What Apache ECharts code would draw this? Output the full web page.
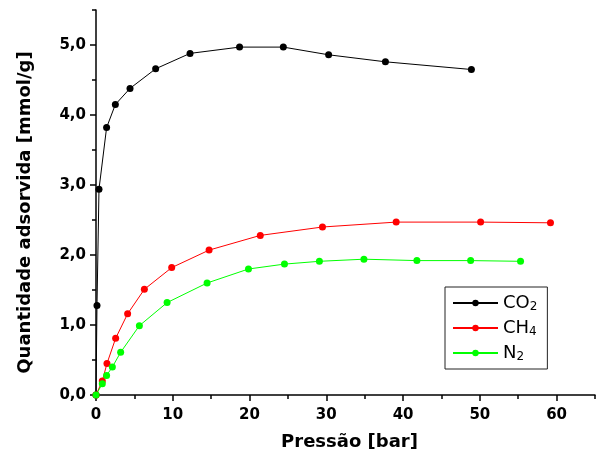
<!DOCTYPE html>
<html>
<head>
<meta charset="utf-8">
<script src="https://cdn.jsdelivr.net/npm/echarts@6/dist/echarts.min.js"></script>
<style>html,body{margin:0;padding:0;background:#fff}#c{width:600px;height:462px}</style>
</head>
<body>
<div id="c"></div>
<script>
// Data
var co2P = [0, 0.13, 0.39, 1.38, 2.52, 4.43, 7.77, 12.25, 18.7, 24.4, 30.3, 37.7, 48.9];
var co2Q = [0, 1.28, 2.94, 3.82, 4.15, 4.38, 4.66, 4.88, 4.97, 4.97, 4.86, 4.76, 4.65];
var ch4P = [0, 0.82, 1.43, 2.56, 4.12, 6.3, 9.86, 14.73, 21.4, 29.5, 39.1, 50.1, 59.2];
var ch4Q = [0, 0.20, 0.45, 0.81, 1.16, 1.51, 1.82, 2.07, 2.28, 2.40, 2.47, 2.47, 2.46];
var n2P = [0, 0.82, 1.38, 2.13, 3.21, 5.65, 9.26, 14.47, 19.86, 24.55, 29.1, 34.9, 41.8, 48.8, 55.3];
var n2Q = [0, 0.16, 0.28, 0.40, 0.61, 0.99, 1.32, 1.60, 1.80, 1.87, 1.91, 1.94, 1.92, 1.92, 1.91];
var seriesNames = ['CO2', 'CH4', 'N2'];
var legendParts = { 'CO2': ['CO', '2'], 'CH4': ['CH', '4'], 'N2': ['N', '2'] };
var xTickLabels = [0, 10, 20, 30, 40, 50, 60];
var xMinorTicks = [5, 15, 25, 35, 45, 55, 65];
var yTickLabels = [0, 1, 2, 3, 4, 5];
var yMinorTicks = [0.5, 1.5, 2.5, 3.5, 4.5, 5.5];
var xMax = 65;
var yMax = 5.5;
var xTitle = 'Pressão [bar]';
var yTitle = 'Quantidade adsorvida [mmol/g]';

function zip(a, b) { return a.map(function (v, i) { return [v, b[i]]; }); }

var tickFont = { fontFamily: 'DejaVu Sans', fontWeight: 'bold', fontSize: 15, color: '#000' };
var chart = echarts.init(document.getElementById('c'), null, { renderer: 'canvas' });
var axisLine = { show: true, lineStyle: { color: '#000', width: 1.5 } };

chart.setOption({
  animation: false,
  backgroundColor: '#fff',
  grid: { left: 96, right: 5, top: 10, bottom: 67 },
  legend: {
    orient: 'vertical', left: 445, top: 287,
    width: 103,
    padding: [6, 10, 6, 7],
    borderColor: '#222', borderWidth: 1,
    itemWidth: 45, itemHeight: 8, itemGap: 5,
    data: seriesNames,
    formatter: function (n) { return '{a|' + legendParts[n][0] + '}{s|' + legendParts[n][1] + '}'; },
    textStyle: {
      fontFamily: 'DejaVu Sans', fontSize: 18, color: '#000',
      rich: {
        a: { fontFamily: 'DejaVu Sans', fontSize: 18, color: '#000', lineHeight: 20 },
        s: { fontFamily: 'DejaVu Sans', fontSize: 12, color: '#000', lineHeight: 20, padding: [8, 0, 0, 0] }
      }
    }
  },
  xAxis: [{
    type: 'value', min: 0, max: xMax, interval: 5,
    axisLine: axisLine,
    axisTick: { show: true, inside: false, length: 6, customValues: xTickLabels, lineStyle: { color: '#000', width: 1.5 } },
    axisLabel: Object.assign({ margin: 13, customValues: xTickLabels,
      formatter: function (v) { var n = Number(v); return (n % 10 === 0 && n < xMax - 1) ? String(n) : ''; } }, tickFont),
    splitLine: { show: false },
    name: xTitle, nameLocation: 'middle', nameGap: 38,
    nameTextStyle: { fontFamily: 'DejaVu Sans', fontWeight: 'bold', fontSize: 18, color: '#000', padding: [0, 0, 0, 8] }
  }, {
    type: 'value', min: 0, max: xMax, interval: 5, position: 'bottom',
    axisLine: { show: false },
    axisTick: { show: true, length: 4, customValues: xMinorTicks, lineStyle: { color: '#000', width: 1.5 } },
    axisLabel: { show: false, customValues: [], formatter: function () { return ''; } }, splitLine: { show: false }
  }],
  yAxis: [{
    type: 'value', min: 0, max: yMax, interval: 0.5,
    axisLine: axisLine,
    axisTick: { show: true, inside: false, length: 6, customValues: yTickLabels, lineStyle: { color: '#000', width: 1.5 } },
    axisLabel: Object.assign({ margin: 10, customValues: yTickLabels,
      formatter: function (v) { var n = Number(v); return Math.abs(n - Math.round(n)) < 1e-9 && n < yMax ? n.toFixed(1).replace('.', ',') : ''; } }, tickFont),
    splitLine: { show: false },
    name: yTitle, nameLocation: 'middle', nameGap: 62, nameRotate: 90,
    nameTextStyle: { fontFamily: 'DejaVu Sans', fontWeight: 'bold', fontSize: 18, color: '#000', padding: [0, 20, 0, 0] }
  }, {
    type: 'value', min: 0, max: yMax, interval: 0.5, position: 'left',
    axisLine: { show: false },
    axisTick: { show: true, length: 4, customValues: yMinorTicks, lineStyle: { color: '#000', width: 1.5 } },
    axisLabel: { show: false, customValues: [], formatter: function () { return ''; } }, splitLine: { show: false }
  }],
  series: [
    { name: 'CO2', type: 'line', data: zip(co2P, co2Q), symbol: 'circle', symbolSize: 7, showAllSymbol: true,
      itemStyle: { color: '#000' }, lineStyle: { color: '#000', width: 1 } },
    { name: 'CH4', type: 'line', data: zip(ch4P, ch4Q), symbol: 'circle', symbolSize: 7, showAllSymbol: true,
      itemStyle: { color: '#ff0000' }, lineStyle: { color: '#ff0000', width: 1 } },
    { name: 'N2', type: 'line', data: zip(n2P, n2Q), symbol: 'circle', symbolSize: 7, showAllSymbol: true,
      itemStyle: { color: '#00ff00' }, lineStyle: { color: '#00ff00', width: 1 } }
  ]
});
</script>
</body>
</html>
